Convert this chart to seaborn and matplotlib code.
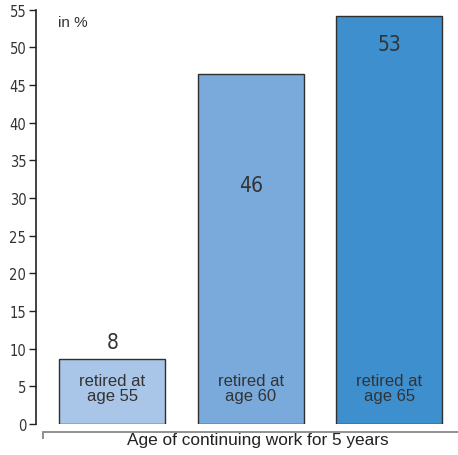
import matplotlib
matplotlib.use("Agg")
import matplotlib.pyplot as plt
import seaborn as sns
import pandas as pd

# ---- data ----
categories = ["retired at\nage 55", "retired at\nage 60", "retired at\nage 65"]
bar_heights = [8.6, 46.4, 54.1]
value_labels = ["8", "46", "53"]
yticks = [0, 5, 10, 15, 20, 25, 30, 35, 40, 45, 50, 55]
x_title = "Age of continuing work for 5 years"
unit_label = "in %"

# ---- style ----
colors = ["#a9c5e7", "#7aaadb", "#3e8fce"]
label_y = [10.9, 31.7, 50.5]   # layout positions for value labels
inner_label_y = 4.8

sns.set_theme(style="white")
plt.rcParams["font.family"] = ["Liberation Sans", "DejaVu Sans"]
text_color = "#333333"
num_font = dict(family=["DejaVu Sans"], fontstretch="condensed")

df = pd.DataFrame({"cat": categories, "value": bar_heights})

fig = plt.figure(figsize=(4.58, 4.56), dpi=100)
ax = fig.add_axes([36 / 458, 1 - 425 / 456, 1 - 36 / 458, (425 - 10.6) / 456])

sns.barplot(data=df, x="cat", y="value", hue="cat", palette=colors, legend=False,
            width=0.765, edgecolor="#2f2f2f", linewidth=1.0, ax=ax, saturation=1)

ax.set_ylim(0, 55)
ax.set_xlim(-0.552, 2.495)
ax.set_yticks(yticks)
ax.set_yticklabels([str(t) for t in yticks], fontsize=10.5, color=text_color, **num_font)
ax.tick_params(axis="y", direction="out", length=5, width=1, color="#222222",
               pad=2, left=True)

for i, (lab, yv) in enumerate(zip(value_labels, label_y)):
    ax.text(i, yv, lab, ha="center", va="center", fontsize=15, color=text_color,
            **num_font)
for i, c in enumerate(categories):
    ax.text(i, inner_label_y, c, ha="center", va="center", fontsize=12,
            color=text_color, linespacing=1.05)

ax.text((58 - 36) / 422, (425 - 23) / 414.4, unit_label, transform=ax.transAxes,
        ha="left", va="center", fontsize=11, color=text_color)

for s in ["top", "right"]:
    ax.spines[s].set_visible(False)
ax.spines["left"].set_color("#222222")
ax.spines["left"].set_linewidth(1.2)
ax.spines["bottom"].set_position(("outward", 5.8))
ax.spines["bottom"].set_bounds(-0.5, 2.495)
ax.spines["bottom"].set_color("#888888")
ax.spines["bottom"].set_linewidth(1.3)

ax.set_xticks([-0.5])
ax.set_xticklabels([""])
ax.tick_params(axis="x", direction="out", length=5, width=1.3, color="#888888",
               bottom=True)

ax.set_xlabel(x_title, fontsize=12.4, color="#222222")
ax.xaxis.set_label_coords((258 - 36) / 422, (425 - 433) / 414.4)
ax.xaxis.label.set_va("top")
ax.set_ylabel("")

fig.savefig("out.png", dpi=100)
